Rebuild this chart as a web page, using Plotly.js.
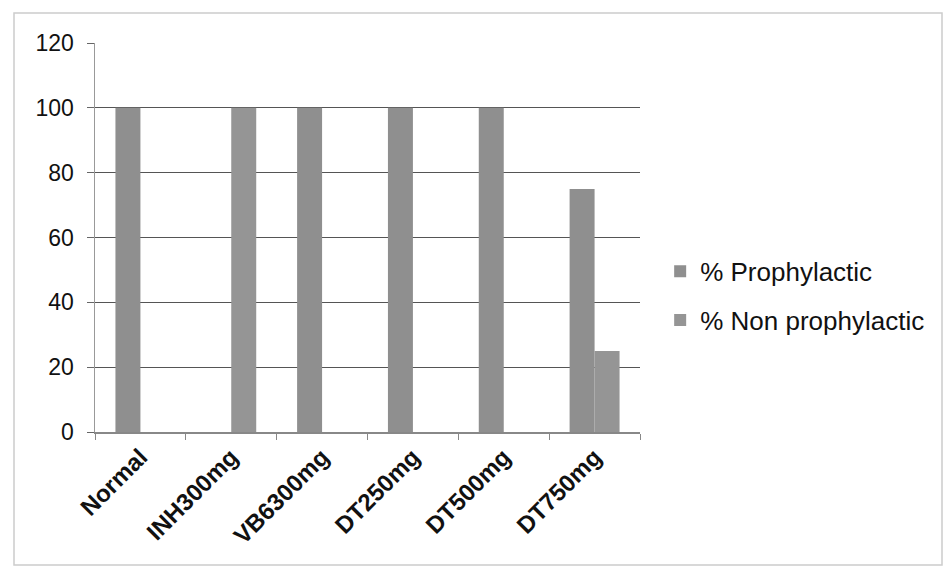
<!DOCTYPE html>
<html>
<head>
<meta charset="utf-8">
<script src="https://cdn.plot.ly/plotly-3.0.1.min.js"></script>
<style>
html,body{margin:0;padding:0;background:#fff;}
#chart{width:946px;height:573px;}
</style>
</head>
<body>
<div id="chart"></div>
<script>
var categories = ["Normal", "INH300mg", "VB6300mg", "DT250mg", "DT500mg", "DT750mg"];
var prophylactic = [100, 0, 100, 100, 100, 75];
var nonProphylactic = [0, 100, 0, 0, 0, 25];
var yTicks = [0, 20, 40, 60, 80, 100, 120];

var traces = [
  {
    type: "bar", name: "% Prophylactic", x: categories, y: prophylactic,
    legendgroup: "a",
    marker: {color: "#8f8f8f", line: {width: 0}}
  },
  {
    type: "bar", name: "% Non prophylactic", x: categories, y: nonProphylactic,
    legendgroup: "b",
    marker: {color: "#959595", line: {width: 0}}
  }
];

var layout = {
  width: 946, height: 573,
  margin: {l: 95, r: 306, t: 43, b: 141},
  paper_bgcolor: "#fff", plot_bgcolor: "#fff",
  barmode: "group", bargap: 0.45, bargroupgap: 0,
  font: {family: "Liberation Sans, Arial, sans-serif", color: "#111"},
  showlegend: true,
  legend: {
    x: 1.037, xanchor: "left", y: 0.35, yanchor: "middle",
    font: {size: 26, color: "#111"},
    traceorder: "grouped", tracegroupgap: 12,
    itemwidth: 30
  },
  xaxis: {
    type: "category",
    showline: true, linecolor: "#888", linewidth: 1.5,
    ticks: "outside", tickson: "boundaries", ticklen: 6, tickcolor: "#888",
    tickangle: -45,
    tickfont: {size: 24, family: "Liberation Sans, Arial, sans-serif", color: "#111", weight: "bold"},
    showgrid: false, zeroline: false
  },
  yaxis: {
    range: [0, 120], tickvals: yTicks, ticktext: yTicks.map(String),
    showline: true, linecolor: "#999", linewidth: 1.5,
    ticks: "outside", ticklen: 7, tickcolor: "#666",
    ticklabelstandoff: 8,
    showgrid: true, gridcolor: "#555", gridwidth: 1,
    zeroline: false,
    tickfont: {size: 23, color: "#111"}
  },
  shapes: [
    {type: "rect", xref: "paper", yref: "paper",
     x0: -81/545, x1: 847/545, y0: -133/389, y1: 1 + 30/389,
     line: {color: "#ccc", width: 1.5}, fillcolor: "rgba(0,0,0,0)"}
  ]
};

Plotly.newPlot("chart", traces, layout, {displayModeBar: false, staticPlot: true});
</script>
</body>
</html>
